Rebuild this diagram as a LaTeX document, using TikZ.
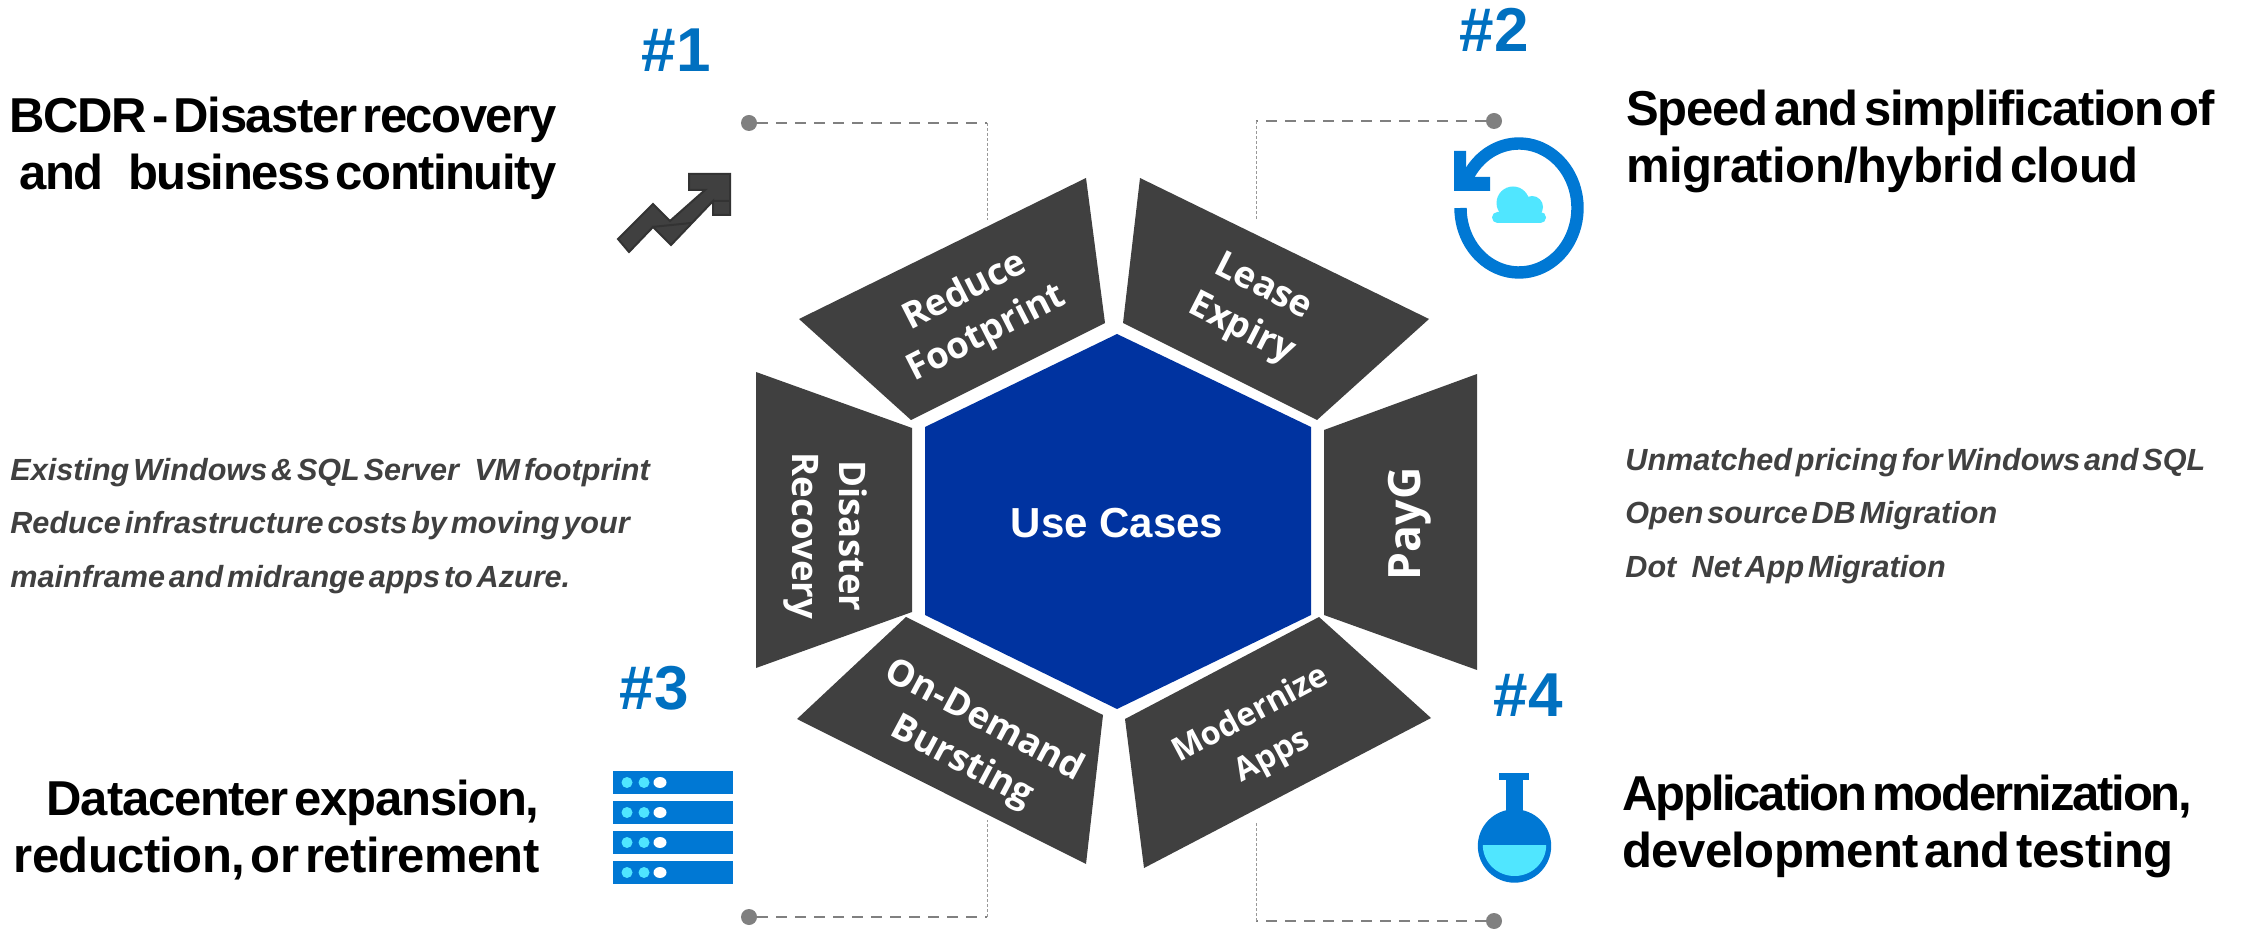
\documentclass[tikz,border=0pt]{standalone}
\usepackage{fontspec}
\setmainfont{Liberation Sans}
\newfontfamily\headA[WordSpace=0.45,LetterSpace=-1.2]{Liberation Sans}
\newfontfamily\headB[WordSpace=0.45,LetterSpace=-2.5]{Liberation Sans}
\newfontfamily\headC[WordSpace=0.45,LetterSpace=-3]{Liberation Sans}
\newfontfamily\headD[WordSpace=0.45,LetterSpace=-4.5]{Liberation Sans}
\newfontfamily\notefont[WordSpace=0.45]{Liberation Sans}
\newfontfamily\labfont{Open Sans}
\definecolor{panel}{HTML}{404040}
\definecolor{hexblue}{HTML}{0033A0}
\definecolor{azure}{HTML}{0078D4}
\definecolor{hashblue}{HTML}{0070C0}
\definecolor{sky}{HTML}{50E6FF}
\definecolor{dashgray}{HTML}{808080}
\tikzset{
  x=0.5pt,y=-0.5pt,
  panelfill/.style={fill=panel},
  lab/.style={text=white,align=center,inner sep=0pt,font=\labfont\bfseries\fontsize{18.3}{23.5}\selectfont},
  hashtag/.style={text=hashblue,inner sep=0pt,font=\bfseries\fontsize{31}{36}\selectfont},
  head/.style={text=black,inner sep=0pt,font=\bfseries\fontsize{24.5}{28.5}\selectfont},
  note/.style={text=panel,inner sep=0pt,align=left,font=\notefont\bfseries\itshape\fontsize{15.3}{26.7}\selectfont},
  enddot/.style={circle,fill=dashgray,inner sep=0pt,minimum size=8pt},
  heavydash/.style={draw=dashgray,line width=1.3pt,dash pattern=on 5.5pt off 4pt},
  thindash/.style={draw=dashgray!80,line width=0.45pt,dash pattern=on 1.5pt off 1pt},
}
\begin{document}
\begin{tikzpicture}
\useasboundingbox (0,0) rectangle (2241,929);
\fill[white] (0,0) rectangle (2241,929);
% hexagon and panels
\fill[hexblue] (1117,334) -- (1311,427) -- (1311,615) -- (1117,709) -- (925,615) -- (925,427) -- cycle;
\fill[panelfill] (1086,178) -- (799,319) -- (911,420) -- (1105,323) -- cycle;
\fill[panelfill] (1140,178) -- (1429,319) -- (1317,420) -- (1123,323) -- cycle;
\fill[panelfill] (756,372) -- (912,428) -- (912,612) -- (756,668) -- cycle;
\fill[panelfill] (1477,374) -- (1324,430) -- (1324,615) -- (1477,670) -- cycle;
\fill[panelfill] (906,617) -- (1103,715) -- (1086,864) -- (797,719) -- cycle;
\fill[panelfill] (1319,617) -- (1125,719) -- (1144,868) -- (1431,718) -- cycle;
% labels on the shapes
\node[text=white,inner sep=0pt,font=\bfseries\fontsize{21}{26}\selectfont] (center) at (1117,523) {Use Cases};
\node[lab,rotate=27] (reduce) at (976,313) {Reduce\\Footprint};
\node[lab,rotate=-27] (lease) at (1252,309) {Lease\\Expiry};
\node[lab,rotate=-90] (disaster) at (825,536) {Disaster\\Recovery};
\node[lab,rotate=90,font=\labfont\bfseries\fontsize{22.3}{28}\selectfont] (payg) at (1410,524) {PayG};
\node[lab,rotate=-28] (ondemand) at (973,742) {On-Demand\\Bursting};
\node[lab,rotate=28,font=\labfont\bfseries\fontsize{16.2}{23.5}\selectfont] (modern) at (1262,736) {Modernize\\Apps};
% connectors
\node[enddot] (d1) at (749,123) {};
\coordinate (c1) at (987,123); \coordinate (e1) at (987,220);
\draw[heavydash] (d1) -- (c1); \draw[thindash] (c1) -- (e1);
\node[enddot] (d2) at (1494,121) {};
\coordinate (c2) at (1256,121); \coordinate (e2) at (1256,219);
\draw[heavydash] (d2) -- (c2); \draw[thindash] (c2) -- (e2);
\node[enddot] (d3) at (749,917) {};
\coordinate (c3) at (987,917); \coordinate (e3) at (987,820);
\draw[heavydash] (d3) -- (c3); \draw[thindash] (c3) -- (e3);
\node[enddot] (d4) at (1494,921) {};
\coordinate (c4) at (1256,921); \coordinate (e4) at (1256,821);
\draw[heavydash] (d4) -- (c4); \draw[thindash] (c4) -- (e4);
% hashtags
\node[hashtag] (h1) at (676,50) {\#1};
\node[hashtag] (h2) at (1494,30) {\#2};
\node[hashtag] (h3) at (654,688) {\#3};
\node[hashtag] (h4) at (1528,695) {\#4};
% headings
\node[head,align=right,anchor=east] (t1) at (557,148) {{\headC BCDR - Disaster recovery}\\{\headC and\hspace{0.5em}business continuity}};
\node[head,align=left,anchor=west] (t2) at (1626,141) {{\headB Speed and simplification of}\\{\headA migration/hybrid cloud}};
\node[head,align=right,anchor=east] (t3) at (540,830) {{\headB Datacenter expansion,}\\{\headA reduction, or retirement}\hspace{3pt}};
\node[head,align=left,anchor=west] (t4) at (1622,826) {{\headD Application modernization,}\\{\headA development and testing}};
% notes
\node[note,anchor=west] (n1) at (10,526) {Existing Windows \& SQL Server\hspace{0.5em}VM footprint\\Reduce infrastructure costs by moving your\\mainframe and midrange apps to Azure.};
\node[note,anchor=west] (n2) at (1625,516) {Unmatched pricing for Windows and SQL\\Open source DB Migration\\Dot\hspace{0.5em}Net App Migration};
% trend icon
\draw[fill=panel,draw=black!80,line width=1pt,line join=miter]
  (618,239) -- (653,204) -- (670,221) -- (705,190) -- (689,190) -- (689,174) -- (730,174) -- (730,215) -- (713,215) -- (713,201) -- (671,245) -- (653,227) -- (629,252) -- cycle;
\draw[draw=black!80,line width=1pt] (652,227) -- (691,223) (713,201) -- (730,201);
% refresh icon
\draw[azure,line width=6.2pt] plot[domain=180:512,samples=80] ({1519+58.5*cos(\x)},{208-64.5*sin(\x)});
\fill[azure] (1454,151) -- (1466,151) -- (1466,177) -- (1490,177) -- (1490,191) -- (1454,191) -- cycle;
\fill[sky] (1513,203) circle[radius=16.5];
\fill[sky] (1532,207) circle[radius=11];
\fill[sky,rounded corners=2.7pt] (1492,212) rectangle (1546,223);
% server icon
\foreach \yy in {771,801,831,861}{
  \fill[azure] (613,\yy) rectangle (733,\yy+23);
  \fill[sky] (627,\yy+11.5) circle[radius=5.5];
  \fill[sky] (644,\yy+11.5) circle[radius=5.5];
  \fill[white] (660,\yy+11.5) ellipse[x radius=6.5,y radius=5.5];
}
% flask icon
\fill[azure] (1514.5,846) circle[radius=36.7];
\fill[azure] (1506,780) rectangle (1523,815);
\fill[azure] (1499,773) rectangle (1529,780);
\fill[sky] plot[domain=0:180,samples=40] ({1514.5+31.7*cos(\x)},{845+31*sin(\x)}) -- cycle;
\end{tikzpicture}
\end{document}
